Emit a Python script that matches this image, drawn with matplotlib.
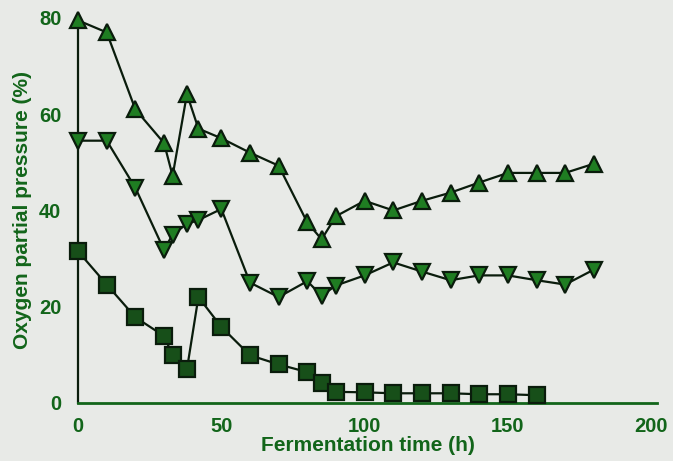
import matplotlib
matplotlib.use("Agg")
import matplotlib.pyplot as plt

plt.rcParams['font.family'] = ['Liberation Sans Narrow', 'Liberation Sans', 'DejaVu Sans']

# 상단 곡선 (삼각형 ▲)
x_up = [0, 10, 20, 30, 33, 38, 42, 50, 60, 70, 80, 85, 90, 100, 110, 120, 130, 140, 150, 160, 170, 180]
y_up = [79.5, 77, 61, 54, 47.2, 64.2, 57, 55, 52, 49.3, 37.5, 34, 38.8, 42, 40, 42, 43.7, 45.8, 47.8, 47.8, 47.8, 49.7]

# 중간 곡선 (역삼각형 ▼)
x_down = [0, 10, 20, 30, 33, 38, 42, 50, 60, 70, 80, 85, 90, 100, 110, 120, 130, 140, 150, 160, 170, 180]
y_down = [54.5, 54.5, 44.7, 31.8, 35, 37.2, 38, 40.3, 25, 22, 25.3, 22.3, 24.4, 26.5, 29.2, 27.3, 25.5, 26.5, 26.5, 25.5, 24.6, 27.7]

# 하단 곡선 (사각형 ■)
x_sq = [0, 10, 20, 30, 33, 38, 42, 50, 60, 70, 80, 85, 90, 100, 110, 120, 130, 140, 150, 160]
y_sq = [31.5, 24.6, 17.8, 13.9, 9.9, 7, 22, 15.8, 9.9, 8, 6.4, 4.1, 2.3, 2.2, 2, 2, 2, 1.8, 1.8, 1.6]

bg = '#e8eae7'
green = '#12651a'
line_c = '#0a1c0c'
face = '#1f7d22'

fig = plt.figure(figsize=(6.73, 4.61), dpi=100, facecolor=bg)
ax = fig.add_axes([0.116, 0.126, 0.86, 0.835])
ax.set_facecolor(bg)

ax.plot(x_up, y_up, color=line_c, lw=1.6, marker='^', ms=12,
        mfc=face, mec=line_c, mew=1.6, zorder=3, clip_on=False)
ax.plot(x_down, y_down, color=line_c, lw=1.6, marker='v', ms=12,
        mfc=face, mec=line_c, mew=1.6, zorder=3, clip_on=False)
ax.plot(x_sq, y_sq, color=line_c, lw=1.6, marker='s', ms=11,
        mfc='#174f19', mec=line_c, mew=1.6, zorder=3, clip_on=False)

ax.set_xlim(0, 202)
ax.set_ylim(0, 80)
ax.set_xticks([0, 50, 100, 150, 200])
ax.set_yticks([0, 20, 40, 60, 80])

for s in ['top', 'right']:
    ax.spines[s].set_visible(False)
ax.spines['bottom'].set_color(green)
ax.spines['bottom'].set_linewidth(2)
ax.spines['left'].set_color(line_c)
ax.spines['left'].set_linewidth(1.6)

ax.tick_params(length=0, labelsize=14.5, labelcolor=green)
ax.tick_params(axis='x', pad=10)
ax.tick_params(axis='y', pad=12)
for lab in ax.get_xticklabels() + ax.get_yticklabels():
    lab.set_fontweight('bold')

ax.set_xlabel('Fermentation time (h)', fontsize=15, fontweight='bold', color=green, labelpad=0)
ax.set_ylabel('Oxygen partial pressure (%)', fontsize=15, fontweight='bold', color=green, labelpad=5)

plt.savefig('out.png', dpi=100, facecolor=bg)
